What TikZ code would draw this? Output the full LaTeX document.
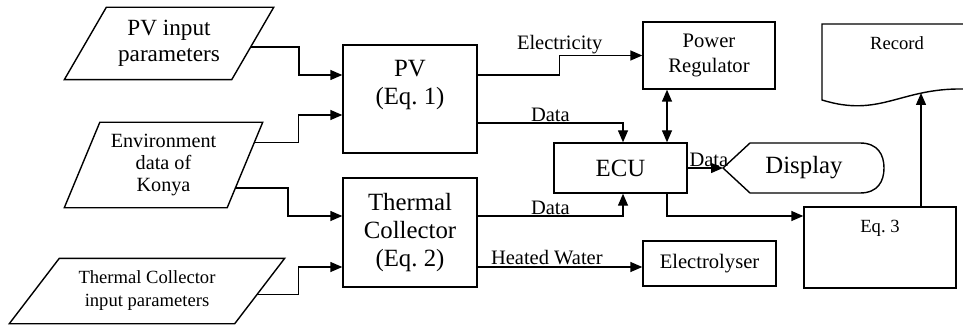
\documentclass[tikz,border=0pt]{standalone}
\usepackage{fontspec}
\setmainfont{Liberation Serif}
\usetikzlibrary{arrows.meta,calc}
\begin{document}
\begin{tikzpicture}[x=1pt, y=1pt, line width=1.4pt,
    >={Triangle[length=12pt,width=10pt]},
    box/.style={draw, inner sep=0pt, align=center},
    para/.style={inner sep=0pt, align=center},
    lbl/.style={inner sep=1pt, anchor=south, font=\fontsize{20.5}{22}\selectfont},
    bigtxt/.style={font=\fontsize{24.8}{28}\selectfont, align=center},
    midtxt/.style={font=\fontsize{20.6}{25}\selectfont, align=center},
    smalltxt/.style={font=\fontsize{18.6}{23}\selectfont, align=center}]
    \useasboundingbox (0,0) rectangle (963,-326);
    \node[para, minimum width=166pt, minimum height=71pt, font=\fontsize{23.2}{26}\selectfont]
    (pvin) at (169,-43.5) {PV input\\parameters};
    \draw ([xshift=21pt]pvin.north west) -- ([xshift=21pt]pvin.north east)
    -- ([xshift=-21pt]pvin.south east) -- ([xshift=-21pt]pvin.south west) -- cycle;
    \node[para, minimum width=161.5pt, minimum height=84pt, font=\fontsize{20.2}{22}\selectfont]
    (envin) at (163.5,-165) {Environment\\data of\\Konya};
    \draw ([xshift=17.75pt]envin.north west) -- ([xshift=17.75pt]envin.north east)
    -- ([xshift=-17.75pt]envin.south east) -- ([xshift=-17.75pt]envin.south west) -- cycle;
    \node[para, minimum width=224pt, minimum height=64pt, smalltxt]
    (thin) at (147,-291) {Thermal Collector\\input parameters};
    \draw ([xshift=25pt]thin.north west) -- ([xshift=25pt]thin.north east)
    -- ([xshift=-25pt]thin.south east) -- ([xshift=-25pt]thin.south west) -- cycle;
    \node[box, minimum width=134pt, minimum height=108pt] (pv) at (410,-99) {};
    \node[bigtxt] (pvtxt) at (410,-85) {PV\\(Eq.~1)};
    \node[box, bigtxt, minimum width=134pt, minimum height=109pt]
    (th) at (410,-232.5) {Thermal\\Collector\\(Eq.~2)};
    \node[box, midtxt, minimum width=132pt, minimum height=67pt]
    (preg) at (709,-55.5) {Power\\Regulator};
    \node[box, bigtxt, minimum width=133pt, minimum height=50pt]
    (ecu) at (620.5,-168) {ECU};
    \node[box, midtxt, minimum width=133pt, minimum height=45pt]
    (elec) at (709.5,-263.5) {Electrolyser};
    \node[box, minimum width=152pt, minimum height=81pt] (eq3) at (880,-247.5) {};
    \node[smalltxt] (eqtxt) at (880,-228) {Eq.~3};
    % display and record
    \coordinate (dtip) at (723,-168);
    \draw (dtip) -- (750,-143) -- (860,-143)
    .. controls (878,-143) and (884,-155) .. (884,-168)
    .. controls (884,-181) and (878,-193) .. (860,-193) -- (750,-193) -- cycle;
    \node[bigtxt] (disp) at (804,-168) {Display};
    \draw (963,-24) -- (822,-24) -- (822,-100)
    .. controls (880,-118) and (900,-88) .. (963,-89);
    \node[smalltxt] (rec) at (897,-43) {Record};
    \coordinate (recin) at (921,-93);
    \draw[->] ($([xshift=21pt]pvin.north east)!0.55!([xshift=-21pt]pvin.south east)$)
    -- ++(48.5,0) |- ([yshift=24pt]pv.west);
    \draw[->] ($([xshift=17.75pt]envin.north east)!0.24!([xshift=-17.75pt]envin.south east)$)
    -- ++(44.5,0) |- ([yshift=-16pt]pv.west);
    \draw[->] ($([xshift=17.75pt]envin.north east)!0.77!([xshift=-17.75pt]envin.south east)$)
    -- ++(52.5,0) |- ([yshift=16.5pt]th.west);
    \draw[->] ($([xshift=25pt]thin.north east)!0.55!([xshift=-25pt]thin.south east)$)
    -- ++(41.5,0) |- ([yshift=-34.5pt]th.west);
    \draw[->] ([yshift=24pt]pv.east) -- ++(82,0) |- (preg.west)
    node[lbl, pos=0.5] {Electricity};
    \draw[->] ([yshift=-24pt]pv.east) -| ([xshift=2.5pt]ecu.north)
    node[lbl, pos=0.25] {Data};
    \draw[->] ([yshift=16.5pt]th.east) -| ([xshift=2.5pt]ecu.south)
    node[lbl, pos=0.25] {Data};
    \draw[->] ([yshift=-34.5pt]th.east) coordinate (hw) -- (hw -| elec.west)
    node[lbl, pos=0.42] {Heated Water};
    \draw[<->] ([xshift=46.5pt]ecu.north) -- ([xshift=46.5pt]ecu.north |- preg.south);
    \draw[->] (ecu.east) -- (dtip) node[lbl, pos=0.6] {Data};
    \draw[->] ([xshift=46.5pt]ecu.south) |- ([yshift=31.5pt]eq3.west);
    \draw[->] ([xshift=41pt]eq3.north) -- (recin);
\end{tikzpicture}
\end{document}
